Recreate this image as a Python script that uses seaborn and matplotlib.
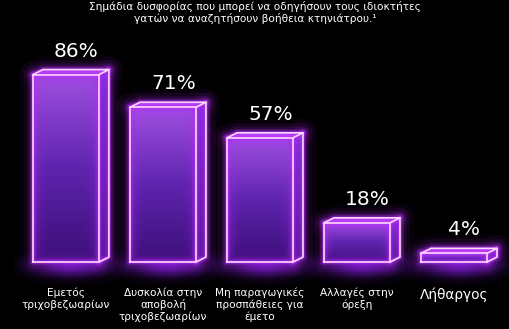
import numpy as np
import matplotlib
matplotlib.use("Agg")
import matplotlib.pyplot as plt
import seaborn as sns
import pandas as pd
from matplotlib.patches import Polygon
from matplotlib.colors import LinearSegmentedColormap

categories = ["Εμετός\nτριχοβεζωαρίων",
              "Δυσκολία στην\nαποβολή\nτριχοβεζωαρίων",
              "Μη παραγωγικές\nπροσπάθειες για\nέμετο",
              "Αλλαγές στην\nόρεξη",
              "Λήθαργος"]
values = [86, 71, 57, 18, 4]
value_labels = ["86%", "71%", "57%", "18%", "4%"]
title = ("Σημάδια δυσφορίας που μπορεί να οδηγήσουν τους ιδιοκτήτες\n"
         "γατών να αναζητήσουν βοήθεια κτηνιάτρου.¹")

sns.set_theme(style="dark")
plt.rcParams['font.family'] = ['DejaVu Sans']

W, H, DPI = 510, 329, 100
fig = plt.figure(figsize=(W / DPI, H / DPI), dpi=DPI, facecolor='black')
ax = fig.add_axes([0, 0, 1, 1])
ax.set_facecolor('black')

df = pd.DataFrame({"cat": categories, "val": values})
sns.barplot(data=df, x="cat", y="val", ax=ax, width=0.68, color="#6a2cc0",
            saturation=1, zorder=3, errorbar=None)

XL = (-0.68, 4.577)
YL = (-30.7, 120.2)
ppx = (XL[1] - XL[0]) / W
ppy = (YL[1] - YL[0]) / H
dx, dy = 10 * ppx, 5 * ppy


def ydata(pix_from_top):
    return YL[0] + (H - pix_from_top) * ppy


front_cmap = LinearSegmentedColormap.from_list("f", ["#3c0f78", "#5e24ae", "#a050e0"])
side_cmap = LinearSegmentedColormap.from_list("s", ["#34106c", "#7030cc"])


def glow_line(xs, ys, z):
    for lw, a in [(20, 0.035), (14, 0.06), (9, 0.1), (5.5, 0.2), (3.2, 0.42)]:
        ax.plot(xs, ys, color='#b82cff', lw=lw, alpha=a, solid_capstyle='round',
                solid_joinstyle='round', zorder=z)
    ax.plot(xs, ys, color='#ffd8ff', lw=1.2, zorder=z + 0.1,
            solid_capstyle='round', solid_joinstyle='round')


bars = list(ax.patches)
for p, lab in zip(bars, value_labels):
    x0 = p.get_x()
    w = p.get_width()
    x1 = x0 + w
    h = p.get_height()

    # floor glow
    gx = np.linspace(-1, 1, 120)
    gy = np.linspace(-1, 1, 60)
    GX, GY = np.meshgrid(gx, gy)
    alpha = np.exp(-(GX ** 2) * 2.5 - (GY ** 2) * 3.5) * 0.7
    img = np.zeros((60, 120, 4))
    img[..., 0] = 0.55
    img[..., 1] = 0.12
    img[..., 2] = 0.95
    img[..., 3] = alpha
    ax.imshow(img, extent=[x0 - 0.2, x1 + dx + 0.2, -11, 7], origin='lower',
              aspect='auto', zorder=1, interpolation='bilinear')

    # front face gradient
    p.set_facecolor('none')
    p.set_edgecolor('none')
    grad = np.linspace(0, 1, 256).reshape(-1, 1)
    im = ax.imshow(grad, extent=[x0, x1, 0, h], origin='lower', aspect='auto',
                   cmap=front_cmap, zorder=3, interpolation='bilinear')
    im.set_clip_path(p)

    # right face
    right = Polygon([(x1, 0), (x1 + dx, dy), (x1 + dx, h + dy), (x1, h)],
                    closed=True, facecolor='#5624ae', edgecolor='none', zorder=3)
    ax.add_patch(right)
    im2 = ax.imshow(grad, extent=[x1, x1 + dx, 0, h + dy], origin='lower',
                    aspect='auto', cmap=side_cmap, zorder=3.05, interpolation='bilinear')
    im2.set_clip_path(right)
    # top face
    top = Polygon([(x0, h), (x1, h), (x1 + dx, h + dy), (x0 + dx, h + dy)],
                  closed=True, facecolor='#b86af0', edgecolor='none', zorder=3.1)
    ax.add_patch(top)

    # glowing edges
    glow_line([x0, x1, x1, x0, x0], [0, 0, h, h, 0], 4)
    glow_line([x0, x0 + dx, x1 + dx, x1], [h, h + dy, h + dy, h], 4)
    glow_line([x1 + dx, x1 + dx, x1], [h + dy, dy, 0], 4)

    ax.annotate(lab, ((x0 + x1) / 2, h), xytext=(7.5, 13),
                textcoords='offset points', ha='center', va='baseline',
                fontsize=14.5, color='white', zorder=6)

for i, cat in enumerate(categories):
    fs = 9.8 if "\n" not in cat else 7.6
    ax.text(i, ydata(287), cat, ha='center', va='top', fontsize=fs,
            color='white', linespacing=1.2, zorder=6)

fig.text(0.5, 1 - 1 / H, title, ha='center', va='top', fontsize=7.6,
         color='white', linespacing=1.15)

ax.set_xlim(*XL)
ax.set_ylim(*YL)
ax.axis('off')

fig.savefig("out.png", dpi=DPI, facecolor='black')
